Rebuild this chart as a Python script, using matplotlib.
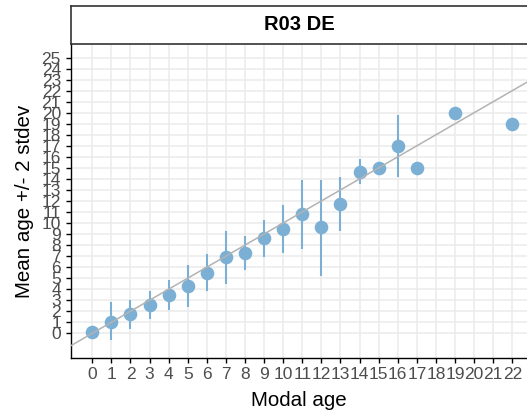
import numpy as np
import matplotlib
matplotlib.use("Agg")
import matplotlib.pyplot as plt

plt.rcParams["font.family"] = ["Liberation Sans", "DejaVu Sans"]

# modal age vs mean age with +/- 2 stdev range
modal_age = [0, 1, 2, 3, 4, 5, 6, 7, 8, 9, 10, 11, 12, 13, 14, 15, 16, 17, 19, 22]
mean_age = [0.1, 1.05, 1.75, 2.6, 3.5, 4.3, 5.5, 6.9, 7.25, 8.6, 9.5, 10.8,
            9.6, 11.75, 14.65, 15.0, 17.0, 15.0, 20.0, 19.0]
lower = [np.nan, -0.6, 0.4, 1.3, 2.1, 2.4, 3.8, 4.5, 5.7, 6.95, 7.3, 7.65,
         5.2, 9.25, 13.5, np.nan, 14.2, np.nan, np.nan, np.nan]
upper = [np.nan, 2.8, 3.0, 3.85, 4.85, 6.15, 7.2, 9.25, 8.8, 10.25, 11.65, 13.9,
         13.9, 14.2, 15.8, np.nan, 19.8, np.nan, np.nan, np.nan]

x_ticks = list(range(0, 23))
y_ticks = list(range(0, 26))
panel_title = "R03 DE"

PT_COL = "#7BAFD4"
W, H = 527, 418

fig = plt.figure(figsize=(W / 100, H / 100), dpi=100)
ax = fig.add_axes([71 / W, 1 - 358.3 / H, 1 - 71 / W, (358.3 - 44) / H])

ax.vlines(modal_age, lower, upper, color=PT_COL, lw=1.5, zorder=3)
ax.plot(modal_age, mean_age, "o", color=PT_COL, ms=9.8, mec="none", zorder=4)
ax.axline((0, 0), slope=1, color="#B3B3B3", lw=1.1, zorder=5)

ax.set_xlim(-1.116, 22.77)
ax.set_ylim(-2.267, 26.23)
ax.set_xticks(x_ticks)
ax.set_yticks(y_ticks)
ax.set_xticklabels([str(v) for v in x_ticks])
ax.set_yticklabels([str(v) for v in y_ticks])

ax.grid(True, color="#EBEBEB", lw=1.1, zorder=0)
ax.set_axisbelow(True)
for s in ["top", "right"]:
    ax.spines[s].set_visible(False)
for s in ["left", "bottom"]:
    ax.spines[s].set_color("black")
    ax.spines[s].set_linewidth(1.0)

ax.tick_params(axis="both", length=3.6, width=1.0, color="black",
               labelsize=12.5, labelcolor="#4D4D4D")
ax.tick_params(axis="x", pad=3.0)
ax.tick_params(axis="y", pad=3.6)

ax.set_xlabel("Modal age", fontsize=14.8, va="center")
ax.xaxis.set_label_coords(0.5, (358.3 - 400) / (358.3 - 44))
ax.set_ylabel("Mean age +/- 2 stdev", fontsize=14.8, va="center")
ax.yaxis.set_label_coords((25 - 71) / (W - 71), 0.5)

# facet strip
strip = fig.add_axes([71 / W, 1 - 44 / H, 1 - 71 / W, (44 - 5.7) / H])
strip.set_facecolor("white")
strip.set_xticks([])
strip.set_yticks([])
for s in ["top", "left", "bottom"]:
    strip.spines[s].set_color("#333333")
    strip.spines[s].set_linewidth(1.2)
strip.spines["right"].set_visible(False)
strip.text(0.5, 0.5, panel_title, ha="center", va="center",
           fontsize=14.5, fontweight="bold", transform=strip.transAxes)

fig.savefig("out.png", dpi=100)
